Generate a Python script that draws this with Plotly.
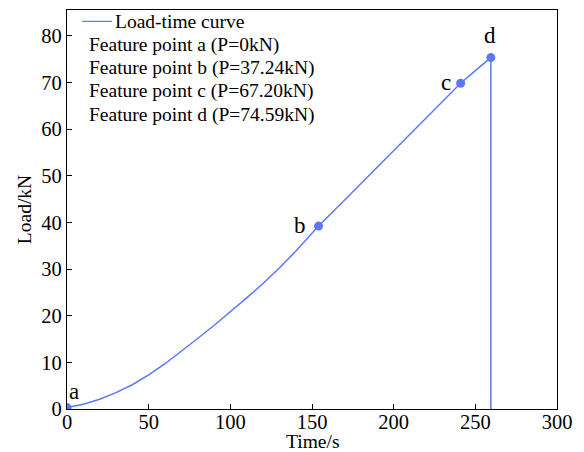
import plotly.graph_objects as go

time_s = [0, 10, 20, 30, 40, 50, 60, 70, 80, 90, 100, 110, 120, 130, 140, 154,
          170, 190, 210, 230, 241, 250, 259.5, 259.5]
load_kn = [0.3, 1.0, 2.1, 3.5, 5.2, 7.3, 9.7, 12.3, 15.1, 17.9, 20.8, 23.8, 26.9,
           30.2, 33.8, 39.2, 44.8, 51.8, 58.8, 65.8, 69.8, 72.5, 75.3, 0]

pt_names = ["a", "b", "c", "d"]
pt_time = [0, 154, 241, 259.5]
pt_load = [0.3, 39.2, 69.8, 75.3]
curve_name = "Load-time curve"
legend_texts = ["Feature point a (P=0kN)", "Feature point b (P=37.24kN)",
                "Feature point c (P=67.20kN)", "Feature point d (P=74.59kN)"]

BLUE = "#5B78FA"
FONT = "Times New Roman, Liberation Serif, serif"

fig = go.Figure()
fig.add_trace(go.Scatter(x=time_s, y=load_kn, mode="lines", name=curve_name,
                         showlegend=False, line=dict(color=BLUE, width=1.5)))
fig.add_trace(go.Scatter(x=pt_time, y=pt_load, mode="markers", showlegend=False,
                         marker=dict(color=BLUE, size=9)))

shifts = {"a": (7, 16), "b": (-19, 1), "c": (-15, 1), "d": (-1, 22)}
for n, t, l in zip(pt_names, pt_time, pt_load):
    dx, dy = shifts[n]
    fig.add_annotation(x=t, y=l, text=n, showarrow=False, xshift=dx, yshift=dy,
                       font=dict(family=FONT, size=23, color="black"))

# legend: sample line + texts
LEG_Y0 = 0.9715
LEG_DY = 0.0585
fig.add_shape(type="line", xref="paper", yref="paper", x0=0.031, x1=0.092,
              y0=LEG_Y0, y1=LEG_Y0, line=dict(color=BLUE, width=1.2))
fig.add_annotation(xref="paper", yref="paper", x=0.094, y=LEG_Y0, text=curve_name,
                   showarrow=False, xanchor="left", yanchor="middle",
                   font=dict(family=FONT, size=19.5, color="black"))
for i, txt in enumerate(legend_texts):
    fig.add_annotation(xref="paper", yref="paper", x=0.041, y=LEG_Y0 - (i + 1) * LEG_DY,
                       text=txt, showarrow=False, xanchor="left", yanchor="middle",
                       font=dict(family=FONT, size=19.5, color="black"))

# x-axis title placed as an annotation for precise positioning
fig.add_annotation(xref="paper", yref="paper", x=0.5, y=-0.081, text="Time/s",
                   showarrow=False, xanchor="center", yanchor="middle",
                   font=dict(family=FONT, size=19.5, color="black"))

axis_common = dict(showline=True, linecolor="black", linewidth=1.2, mirror=True,
                   ticks="inside", ticklen=5, tickcolor="black", showgrid=False,
                   zeroline=False, automargin=False,
                   tickfont=dict(family=FONT, size=20.5, color="black"))

fig.update_xaxes(range=[0, 300], dtick=50, ticklabelstandoff=-6, **axis_common)
fig.update_yaxes(range=[0, 85.5], dtick=10,
                 title=dict(text="Load/kN", font=dict(family=FONT, size=19.5, color="black"), standoff=4),
                 **axis_common)

fig.update_layout(width=584, height=452, margin=dict(l=67, r=27, t=10, b=43),
                  plot_bgcolor="white", paper_bgcolor="white", showlegend=False)

fig.write_html("out.html")
